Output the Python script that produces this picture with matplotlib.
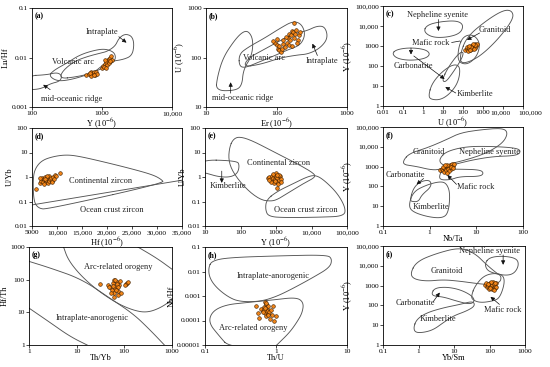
import numpy as np
import matplotlib
matplotlib.use("Agg")
import matplotlib.pyplot as plt
from matplotlib.transforms import ScaledTranslation

plt.rcParams['font.family'] = ['Liberation Serif', 'DejaVu Serif']
plt.rcParams['mathtext.fontset'] = 'stix'

# ---------------- sample data (zircon) ----------------
# (a) Y vs Lu/Hf
a_y = [600, 650, 700, 720, 750, 780, 800, 820, 850, 700, 760, 680,
       1000, 1050, 1100, 1150, 1200, 1250, 1300, 1100, 1180, 1250, 1350, 1400, 1080, 1150, 1300]
a_luhf = [0.0045, 0.0047, 0.0050, 0.0046, 0.0048, 0.0052, 0.0045, 0.0050, 0.0047, 0.0043, 0.0044, 0.0049,
          0.0060, 0.0068, 0.0075, 0.0082, 0.0090, 0.0095, 0.0100, 0.0088, 0.0070, 0.0078, 0.0105, 0.0090,
          0.0065, 0.0060, 0.0085]
# (b) Er vs U
b_er = [95, 100, 105, 110, 110, 115, 120, 125, 130, 90, 140, 145, 150, 155, 160, 165, 170, 175,
        180, 185, 190, 200, 210, 215, 135, 150, 165, 125, 100, 195]
b_u = [200, 180, 150, 140, 170, 130, 150, 190, 160, 220, 200, 250, 300, 230, 280, 350, 330, 500,
       250, 300, 360, 230, 280, 330, 260, 180, 170, 230, 240, 200]
# (c) U vs Y
c_u = [130, 150, 170, 200, 220, 250, 280, 300, 320, 350, 400, 450, 500, 180, 240, 270, 380, 420,
       160, 300, 210, 260, 350, 190, 230]
c_y = [600, 700, 800, 900, 650, 750, 1000, 850, 1100, 950, 1200, 1000, 1300, 550, 1050, 700, 800,
       1150, 900, 1250, 750, 900, 700, 1000, 600]
# (d) Hf vs U/Yb
d_hf = [5800, 6500, 6800, 7000, 7200, 7400, 7500, 7700, 7800, 8000, 8100, 8300, 8400, 8600, 8800,
        9000, 9200, 9500, 9800, 10500, 6600, 7300, 8900, 8000, 7600, 9300]
d_uyb = [0.33, 0.55, 0.7, 0.9, 0.6, 0.8, 1.0, 0.65, 0.75, 0.9, 0.55, 0.7, 1.1, 0.8, 0.95,
         0.7, 1.0, 1.2, 1.1, 1.4, 0.95, 0.5, 0.6, 1.15, 0.85, 0.85]
# (e) Y vs U/Yb
e_y = [600, 650, 700, 750, 800, 850, 900, 950, 1000, 1050, 1100, 1200, 1300, 1400, 1000, 1150,
       900, 1100, 700, 1250, 800, 950, 1350, 650, 1050]
e_uyb = [0.9, 1.0, 0.8, 1.1, 0.7, 0.95, 1.2, 0.85, 1.0, 0.6, 0.9, 0.75, 1.05, 0.8, 1.5, 0.5,
         0.55, 0.35, 0.65, 1.2, 1.3, 0.7, 0.6, 0.75, 1.25]
# (f) Nb/Ta vs Y
f_nbta = [1.7, 1.8, 1.9, 2.0, 2.1, 2.2, 2.3, 2.4, 2.5, 2.6, 2.7, 2.8, 3.0, 3.2, 3.4, 2.0, 2.2,
          2.5, 1.9, 2.9, 2.4, 2.1, 3.1, 2.6, 2.3]
f_y = [700, 800, 650, 900, 750, 1000, 850, 600, 1100, 950, 1200, 800, 1300, 1100, 1400, 550, 700,
       750, 950, 1000, 1250, 1150, 900, 600, 500]
# (g) Th/Yb vs Hf/Th
g_thyb = [31, 45, 50, 55, 58, 60, 62, 65, 68, 70, 72, 75, 78, 80, 60, 52, 48, 65, 70, 75, 85,
          110, 115, 120, 105, 58, 66]
g_hfth = [75, 70, 60, 50, 80, 95, 40, 55, 65, 85, 45, 35, 70, 90, 30, 38, 58, 100, 75, 60, 40,
          75, 80, 85, 70, 65, 48]
# (h) Th/U vs Nb/Hf
h_thu = [0.52, 0.55, 0.58, 0.62, 0.65, 0.68, 0.70, 0.70, 0.72, 0.72, 0.74, 0.75, 0.76, 0.78, 0.80,
         0.82, 0.85, 0.88, 0.92, 0.95, 0.68, 0.73, 0.66, 0.78, 0.70, 1.0]
h_nbhf = [0.00040, 0.00020, 0.00013, 0.00030, 0.00025, 0.00035, 0.00055, 0.00020, 0.00015, 0.00045,
          0.00030, 0.00025, 0.00018, 0.00038, 0.00022, 0.00012, 0.00028, 0.00017, 0.00040, 0.00010,
          0.00028, 0.00050, 0.00022, 0.00016, 0.00033, 0.00015]
# (i) Yb/Sm vs Y
i_ybsm = [75, 80, 85, 90, 95, 100, 100, 105, 110, 115, 120, 120, 125, 130, 135, 140, 145, 150,
          155, 95, 110, 130, 88, 140, 105]
i_y = [1100, 1300, 900, 1000, 1200, 800, 1400, 1100, 950, 1250, 700, 1050, 1500, 850, 1150, 1000,
       750, 1300, 900, 650, 1600, 600, 1250, 1400, 750]

# ---------------- discrimination fields, log10(x), log10(y) ----------------
a_mor = [(1.93, -2.37), (2.21, -2.35), (2.36, -2.30), (2.43, -2.37), (2.40, -2.48), (2.26, -2.53),
         (2.12, -2.64), (1.93, -2.65)]
a_arc = [(2.24, -2.37), (2.31, -2.26), (2.50, -2.11), (2.69, -1.94), (2.93, -1.84), (3.07, -1.83),
         (3.19, -1.91), (3.19, -2.08), (3.02, -2.21), (2.79, -2.35), (2.55, -2.45), (2.36, -2.48)]
a_intra = [(2.40, -2.43), (2.64, -2.39), (2.88, -2.31), (3.02, -2.14), (3.12, -2.08), (3.31, -2.04),
           (3.43, -1.96), (3.46, -1.74), (3.43, -1.57), (3.33, -1.52), (3.24, -1.61), (3.19, -1.77),
           (3.07, -1.88), (2.98, -1.91), (2.79, -1.98), (2.60, -2.08), (2.43, -2.28)]

b_mor = [(1.14, 1.33), (1.16, 1.60), (1.24, 1.99), (1.39, 2.32), (1.51, 2.51), (1.60, 2.54),
         (1.67, 2.36), (1.65, 2.03), (1.53, 1.76), (1.51, 1.43), (1.41, 1.33)]
b_arc = [(1.47, 1.83), (1.47, 2.07), (1.60, 2.21), (1.84, 2.40), (2.05, 2.59), (2.24, 2.74),
         (2.36, 2.67), (2.41, 2.46), (2.34, 2.25), (2.17, 2.16), (1.96, 2.03), (1.72, 1.89), (1.55, 1.79)]
b_intra = [(1.53, 1.81), (1.77, 1.86), (2.05, 1.99), (2.29, 2.05), (2.45, 2.07), (2.62, 2.19),
           (2.73, 2.39), (2.69, 2.62), (2.58, 2.64), (2.43, 2.54), (2.27, 2.49), (2.05, 2.34),
           (1.82, 2.16), (1.60, 1.99)]

c_neph = [(0.03, 3.72), (0.20, 4.05), (0.87, 4.22), (1.70, 4.27), (2.03, 4.05), (1.87, 3.63),
          (1.20, 3.43), (0.45, 3.43)]
c_carb = [(-1.55, 2.63), (-1.30, 2.83), (-0.63, 2.92), (0.12, 2.83), (0.37, 2.60), (0.12, 2.37),
          (-0.63, 2.27), (-1.30, 2.37)]
c_gran = [(1.87, 2.63), (2.20, 3.47), (3.20, 4.30), (4.03, 4.80), (4.45, 4.77), (4.53, 4.38),
          (3.87, 3.47), (3.03, 2.63), (2.37, 2.22), (1.87, 2.13)]
c_mafic = [(1.78, 2.97), (2.03, 3.50), (2.53, 3.58), (2.87, 3.13), (2.70, 2.47), (2.20, 2.05), (1.73, 2.22)]
c_kimb = [(0.28, 0.55), (0.45, 1.13), (0.95, 1.72), (1.53, 2.10), (1.87, 1.97), (1.78, 1.22),
          (1.37, 0.63), (0.87, 0.30), (0.37, 0.33)]
c_kimb2 = [(0.95, 1.30), (1.28, 1.97), (1.78, 2.63), (2.03, 2.72), (1.95, 2.38), (1.53, 1.72), (1.12, 1.17)]

# (d) Hf linear, log10(U/Yb)
d_cont = [(31480, -0.25), (7980, -1.32), (6320, -1.28), (5330, -1.00), (5200, -0.05), (5660, 0.36),
          (6990, 0.68), (9300, 0.84), (11950, 0.91), (14600, 0.84), (19900, 0.59), (25190, 0.32),
          (29160, 0.09), (30820, -0.09)]
d_ocean = [(5000, -1.14), (35000, -0.13)]

e_cont = [(1.69, 1.22), (1.80, 1.56), (1.99, 1.65), (2.37, 1.46), (3.03, 0.95), (3.59, 0.55),
          (4.07, 0.15), (4.11, -0.01), (3.78, -0.26), (3.41, -0.59), (3.03, -0.93), (2.84, -0.99),
          (2.56, -0.93), (2.18, -0.52), (1.80, 0.15), (1.66, 0.68)]
e_ocean = [(2.73, -0.93), (3.03, -0.59), (3.50, -0.26), (3.88, 0.01), (4.11, 0.08), (4.35, -0.12),
           (4.73, -0.66), (4.96, -1.26), (4.92, -1.60), (4.25, -1.64), (3.31, -1.66), (2.79, -1.62),
           (2.70, -1.33)]
e_kimb = [(0.86, 0.71), (1.90, 0.66), (1.97, 0.48), (1.92, 0.15), (1.71, -0.01), (1.38, 0.01),
          (1.05, 0.15), (0.86, 0.21)]

f_gran = [(-0.56, 3.34), (-0.42, 3.68), (-0.06, 3.94), (0.36, 4.36), (0.65, 4.70), (1.08, 4.86),
          (1.57, 4.95), (1.68, 4.70), (1.57, 4.19), (1.22, 3.68), (0.79, 3.34), (0.47, 3.18),
          (0.22, 2.84), (0.01, 2.84), (-0.28, 3.01), (-0.56, 3.09)]
f_neph = [(0.22, 3.43), (0.36, 3.77), (0.79, 4.02), (1.36, 4.02), (1.86, 3.94), (1.96, 3.77),
          (1.86, 3.55), (1.36, 3.51), (0.93, 3.34), (0.65, 3.18), (0.36, 3.01), (0.22, 3.18)]
f_mafic = [(0.21, 2.58), (0.29, 2.87), (0.65, 2.87), (1.08, 2.84), (1.16, 2.67), (1.08, 2.50),
           (0.65, 2.50), (0.44, 2.33), (0.22, 2.33)]
f_carb = [(-0.42, 1.32), (-0.35, 1.91), (-0.20, 2.25), (0.01, 2.33), (0.04, 1.99), (-0.17, 1.57),
          (-0.24, 1.23), (-0.38, 1.23)]
f_kimb = [(-0.45, 1.06), (-0.35, 1.74), (-0.06, 2.08), (0.22, 2.25), (0.36, 2.16), (0.44, 1.66),
          (0.40, 0.64), (0.26, 0.39), (-0.06, 0.47), (-0.38, 0.73)]

g_line1 = [(0.0, 2.56), (0.44, 2.36), (1.10, 2.02), (1.70, 1.43), (2.19, 0.95), (2.54, 0.46), (2.86, -0.03)]
g_line2 = [(0.0, 1.13), (0.44, 0.69), (0.86, 0.26), (1.26, -0.03)]
g_line3 = [(0.72, 3.02), (0.82, 2.61), (1.07, 2.15), (1.42, 1.69), (1.84, 1.28), (2.19, 1.06),
           (2.47, 0.99), (2.75, 1.13), (3.0, 1.38)]
g_line4 = [(2.26, 3.02), (2.68, 2.66), (3.0, 2.32)]

h_intra = [(-0.95, -1.83), (-0.90, -1.56), (-0.66, -1.43), (0.05, -1.36), (0.72, -1.32), (0.79, -1.49),
           (0.76, -1.83), (0.53, -2.23), (0.24, -2.69), (0.0, -3.03), (-0.23, -3.23), (-0.52, -3.23),
           (-0.68, -3.03), (-0.85, -2.63), (-0.94, -2.23)]
h_arc = [(-0.66, -5.09), (-0.80, -4.63), (-0.95, -4.09), (-0.90, -3.63), (-0.71, -3.36), (-0.42, -3.27),
         (-0.04, -3.16), (0.29, -3.05), (0.39, -3.27), (0.37, -3.69), (0.29, -4.09), (0.19, -4.49),
         (0.05, -4.89), (-0.02, -5.09)]

i_gran = [(-0.23, 3.63), (-0.05, 4.22), (0.51, 4.63), (1.17, 4.93), (1.59, 4.63), (1.92, 4.05),
          (2.20, 3.63), (2.34, 3.47), (2.29, 3.13), (1.92, 3.05), (1.54, 3.13), (1.17, 3.22),
          (0.70, 3.30), (0.23, 3.22), (-0.14, 3.33)]
i_neph = [(1.87, 4.13), (2.01, 4.43), (2.38, 4.50), (2.76, 4.38), (2.83, 4.05), (2.71, 3.63),
          (2.48, 3.50), (2.10, 3.63), (1.92, 3.80)]
i_mafic = [(1.50, 2.55), (1.59, 2.97), (1.82, 3.47), (2.10, 3.63), (2.38, 3.55), (2.43, 3.13),
           (2.29, 2.38), (2.10, 2.22), (1.73, 2.13), (1.50, 2.30)]
i_carb = [(0.37, 2.63), (0.47, 2.88), (0.79, 2.93), (1.17, 2.80), (1.50, 2.50), (1.59, 2.22),
          (1.45, 2.05), (1.07, 2.22), (0.70, 2.43), (0.42, 2.47)]
i_kimb = [(-0.14, 0.88), (-0.05, 1.30), (0.23, 1.63), (0.70, 1.88), (1.17, 2.05), (1.54, 2.22),
          (1.59, 1.97), (1.36, 1.72), (0.98, 1.47), (0.70, 1.13), (0.42, 0.77), (0.14, 0.63), (-0.09, 0.63)]

LINE = '#555555'


def smooth(pts, closed=True, n=3):
    # corner cutting so the fields look like hand-drawn curves
    p = np.array(pts, dtype=float)
    for _ in range(n):
        q = np.roll(p, -1, axis=0) if closed else p[1:]
        a = p if closed else p[:-1]
        new = np.empty((2 * len(a), 2))
        new[0::2] = 0.75 * a + 0.25 * q
        new[1::2] = 0.25 * a + 0.75 * q
        if not closed:
            new = np.vstack([p[0], new, p[-1]])
        p = new
    if closed:
        p = np.vstack([p, p[0]])
    return p


def field(ax, pts, closed=True, logx=True):
    p = smooth(pts, closed)
    x = 10 ** p[:, 0] if logx else p[:, 0]
    ax.plot(x, 10 ** p[:, 1], color=LINE, lw=0.65, zorder=1)


def samples(ax, x, y):
    ax.scatter(x, y, s=7, c='#f08418', edgecolors='#3b1d00', linewidths=0.4, zorder=3)


def label(ax, s, x, y):
    ax.text(x, y, s, transform=ax.transAxes, fontsize=6, ha='center', va='center',
            color='#222222', zorder=4)


def arrow(ax, start, end, head=True):
    ax.annotate('', xy=end, xytext=start, xycoords='axes fraction', textcoords='axes fraction',
                arrowprops=dict(arrowstyle='-|>' if head else '-', color='#111111', lw=0.5,
                                mutation_scale=6, shrinkA=0, shrinkB=0), zorder=4)


def setup(ax, xlim, ylim, xt, xl, yt, yl, xlabel, ylabel, tag, logx=True):
    if logx:
        ax.set_xscale('log')
    ax.set_yscale('log')
    ax.set_xlim(xlim)
    ax.set_ylim(ylim)
    ax.set_xticks(xt, xl)
    ax.set_yticks(yt, yl)
    ax.minorticks_off()
    ax.tick_params(length=2, width=0.5, pad=1, labelsize=5.3)
    ax.set_xlabel(xlabel, fontsize=6, labelpad=0)
    ax.set_ylabel(ylabel, fontsize=6, labelpad=1)
    ax.text(0.02, 0.96, tag, transform=ax.transAxes, fontsize=5.5, fontweight='bold', va='top')
    for s in ax.spines.values():
        s.set_linewidth(0.6)


ppm = r'(10$^{-6}$)'
fig = plt.figure(figsize=(5.5, 3.67), dpi=100)
W, H = 550.0, 367.0


def panel(l, r, t, b):
    return fig.add_axes([l / W, 1 - b / H, (r - l) / W, (b - t) / H])


# (a)
ax = panel(32, 172, 8, 107)
for f in (a_mor, a_arc, a_intra):
    field(ax, f)
samples(ax, a_y, a_luhf)
setup(ax, (100, 1e4), (1e-3, 0.1), [100, 1000, 1e4], ['100', '1000', '10,000'],
      [1e-3, 1e-2, 0.1], ['0.001', '0.01', '0.1'], 'Y ' + ppm, 'Lu/Hf', '(a)')
label(ax, 'Intraplate', 0.50, 0.76)
label(ax, 'Volcanic arc', 0.29, 0.45)
label(ax, 'mid-oceanic ridge', 0.28, 0.08)
arrow(ax, (0.62, 0.71), (0.675, 0.65))
arrow(ax, (0.13, 0.175), (0.08, 0.225))

# (b)
ax = panel(206, 347, 8, 107)
for f in (b_mor, b_arc, b_intra):
    field(ax, f)
samples(ax, b_er, b_u)
setup(ax, (10, 1000), (10, 1000), [10, 100, 1000], ['10', '100', '1000'],
      [10, 100, 1000], ['10', '100', '1000'], 'Er ' + ppm, 'U ' + ppm, '(b)')
label(ax, 'Volcanic arc', 0.41, 0.49)
label(ax, 'Intraplate', 0.82, 0.46)
label(ax, 'mid-oceanic ridge', 0.26, 0.09)
arrow(ax, (0.79, 0.52), (0.755, 0.64))
arrow(ax, (0.175, 0.14), (0.175, 0.25))

# (c)
ax = panel(383, 523, 6, 106)
for f in (c_neph, c_carb, c_gran, c_mafic, c_kimb, c_kimb2):
    field(ax, f)
samples(ax, c_u, c_y)
setup(ax, (0.01, 1e5), (1, 1e5), [0.01, 0.1, 1, 10, 100, 1000, 1e4, 1e5],
      ['0.01', '0.1', '1', '10', '100', '1000', '10,000', '100,000'],
      [1, 10, 100, 1000, 1e4, 1e5], ['1', '10', '100', '1000', '10,000', '100,000'],
      'U ' + ppm, 'Y ' + ppm, '(c)')
# crowded right-hand labels are nudged apart as in the source figure
xlabs = ax.get_xticklabels()
xlabs[-1].set_horizontalalignment('left')
xlabs[-1].set_transform(xlabs[-1].get_transform() + ScaledTranslation(-5 / 100, 0, fig.dpi_scale_trans))
xlabs[-2].set_transform(xlabs[-2].get_transform() + ScaledTranslation(-3 / 100, 0, fig.dpi_scale_trans))
label(ax, 'Nepheline syenite', 0.39, 0.91)
label(ax, 'Granitoid', 0.80, 0.76)
label(ax, 'Mafic rock', 0.34, 0.63)
label(ax, 'Carbonatite', 0.22, 0.40)
label(ax, 'Kimberlite', 0.66, 0.12)
arrow(ax, (0.396, 0.865), (0.396, 0.75))
arrow(ax, (0.69, 0.73), (0.60, 0.66))
arrow(ax, (0.49, 0.635), (0.55, 0.65), head=False)
arrow(ax, (0.20, 0.58), (0.20, 0.515))
arrow(ax, (0.22, 0.50), (0.44, 0.27))
arrow(ax, (0.52, 0.13), (0.445, 0.19))

# (d)
ax = panel(32, 182, 128, 226)
field(ax, d_cont, logx=False)
field(ax, d_ocean, closed=False, logx=False)
samples(ax, d_hf, d_uyb)
setup(ax, (5000, 35000), (0.01, 100), [5000, 10000, 15000, 20000, 25000, 30000, 35000],
      ['5000', '10,000', '15,000', '20,000', '25,000', '30,000', '35,000'],
      [0.01, 0.1, 1, 10, 100], ['0.01', '0.1', '1', '10', '100'],
      'Hf ' + ppm, 'U/Yb', '(d)', logx=False)
label(ax, 'Continental zircon', 0.46, 0.46)
label(ax, 'Ocean crust zircon', 0.53, 0.16)

# (e)
ax = panel(205, 347, 128, 226)
for f in (e_cont, e_ocean, e_kimb):
    field(ax, f)
samples(ax, e_y, e_uyb)
setup(ax, (10, 1e5), (0.01, 100), [10, 100, 1000, 1e4, 1e5], ['10', '100', '1000', '10,000', '100,000'],
      [0.01, 0.1, 1, 10, 100], ['0.01', '0.1', '1', '10', '100'], 'Y ' + ppm, 'U/Yb', '(e)')
label(ax, 'Continental zircon', 0.52, 0.64)
label(ax, 'Kimberlite', 0.165, 0.41)
label(ax, 'Ocean crust zircon', 0.71, 0.16)
arrow(ax, (0.118, 0.56), (0.118, 0.44))

# (f)
ax = panel(383, 523, 127, 226)
for f in (f_gran, f_neph, f_mafic, f_carb, f_kimb):
    field(ax, f)
samples(ax, f_nbta, f_y)
setup(ax, (0.1, 100), (1, 1e5), [0.1, 1, 10, 100], ['0.1', '1', '10', '100'],
      [1, 10, 100, 1000, 1e4, 1e5], ['1', '10', '100', '1000', '10,000', '100,000'],
      'Nb/Ta', 'Y ' + ppm, '(f)')
label(ax, 'Granitoid', 0.33, 0.75)
label(ax, 'Nepheline syenite', 0.76, 0.75)
label(ax, 'Carbonatite', 0.16, 0.52)
label(ax, 'Mafic rock', 0.66, 0.39)
label(ax, 'Kimberlite', 0.34, 0.19)
arrow(ax, (0.29, 0.48), (0.24, 0.42))
arrow(ax, (0.525, 0.42), (0.46, 0.515))

# (g)
ax = panel(29, 172, 247, 345)
for f in (g_line1, g_line2, g_line3, g_line4):
    field(ax, f, closed=False)
samples(ax, g_thyb, g_hfth)
setup(ax, (1, 1000), (1, 1000), [1, 10, 100, 1000], ['1', '10', '100', '1000'],
      [1, 10, 100, 1000], ['1', '10', '100', '1000'], 'Th/Yb', 'Hf/Th', '(g)')
label(ax, 'Arc-related orogeny', 0.625, 0.80)
label(ax, 'Intraplate-anorogenic', 0.44, 0.28)

# (h)
ax = panel(205, 347, 247, 345)
for f in (h_intra, h_arc):
    field(ax, f)
samples(ax, h_thu, h_nbhf)
setup(ax, (0.1, 10), (1e-5, 0.1), [0.1, 1, 10], ['0.1', '1', '10'],
      [1e-5, 1e-4, 1e-3, 1e-2, 0.1], ['0.00001', '0.0001', '0.001', '0.01', '0.1'],
      'Th/U', 'Nb/Hf', '(h)')
label(ax, 'Intraplate-anorogenic', 0.48, 0.70)
label(ax, 'Arc-related orogeny', 0.34, 0.17)

# (i)
ax = panel(383, 525, 246, 345)
for f in (i_gran, i_neph, i_mafic, i_carb, i_kimb):
    field(ax, f)
samples(ax, i_ybsm, i_y)
setup(ax, (0.1, 1000), (1, 1e5), [0.1, 1, 10, 100, 1000], ['0.1', '1', '10', '100', '1000'],
      [1, 10, 100, 1000, 1e4, 1e5], ['1', '10', '100', '1000', '10,000', '100,000'],
      'Yb/Sm', 'Y ' + ppm, '(i)')
label(ax, 'Nepheline syenite', 0.75, 0.95)
label(ax, 'Granitoid', 0.45, 0.75)
label(ax, 'Carbonatite', 0.23, 0.42)
label(ax, 'Mafic rock', 0.84, 0.35)
label(ax, 'Kimberlite', 0.39, 0.26)
arrow(ax, (0.846, 0.91), (0.846, 0.81))
arrow(ax, (0.355, 0.44), (0.40, 0.53))
arrow(ax, (0.82, 0.41), (0.757, 0.487))

fig.savefig('out.png', dpi=100)
